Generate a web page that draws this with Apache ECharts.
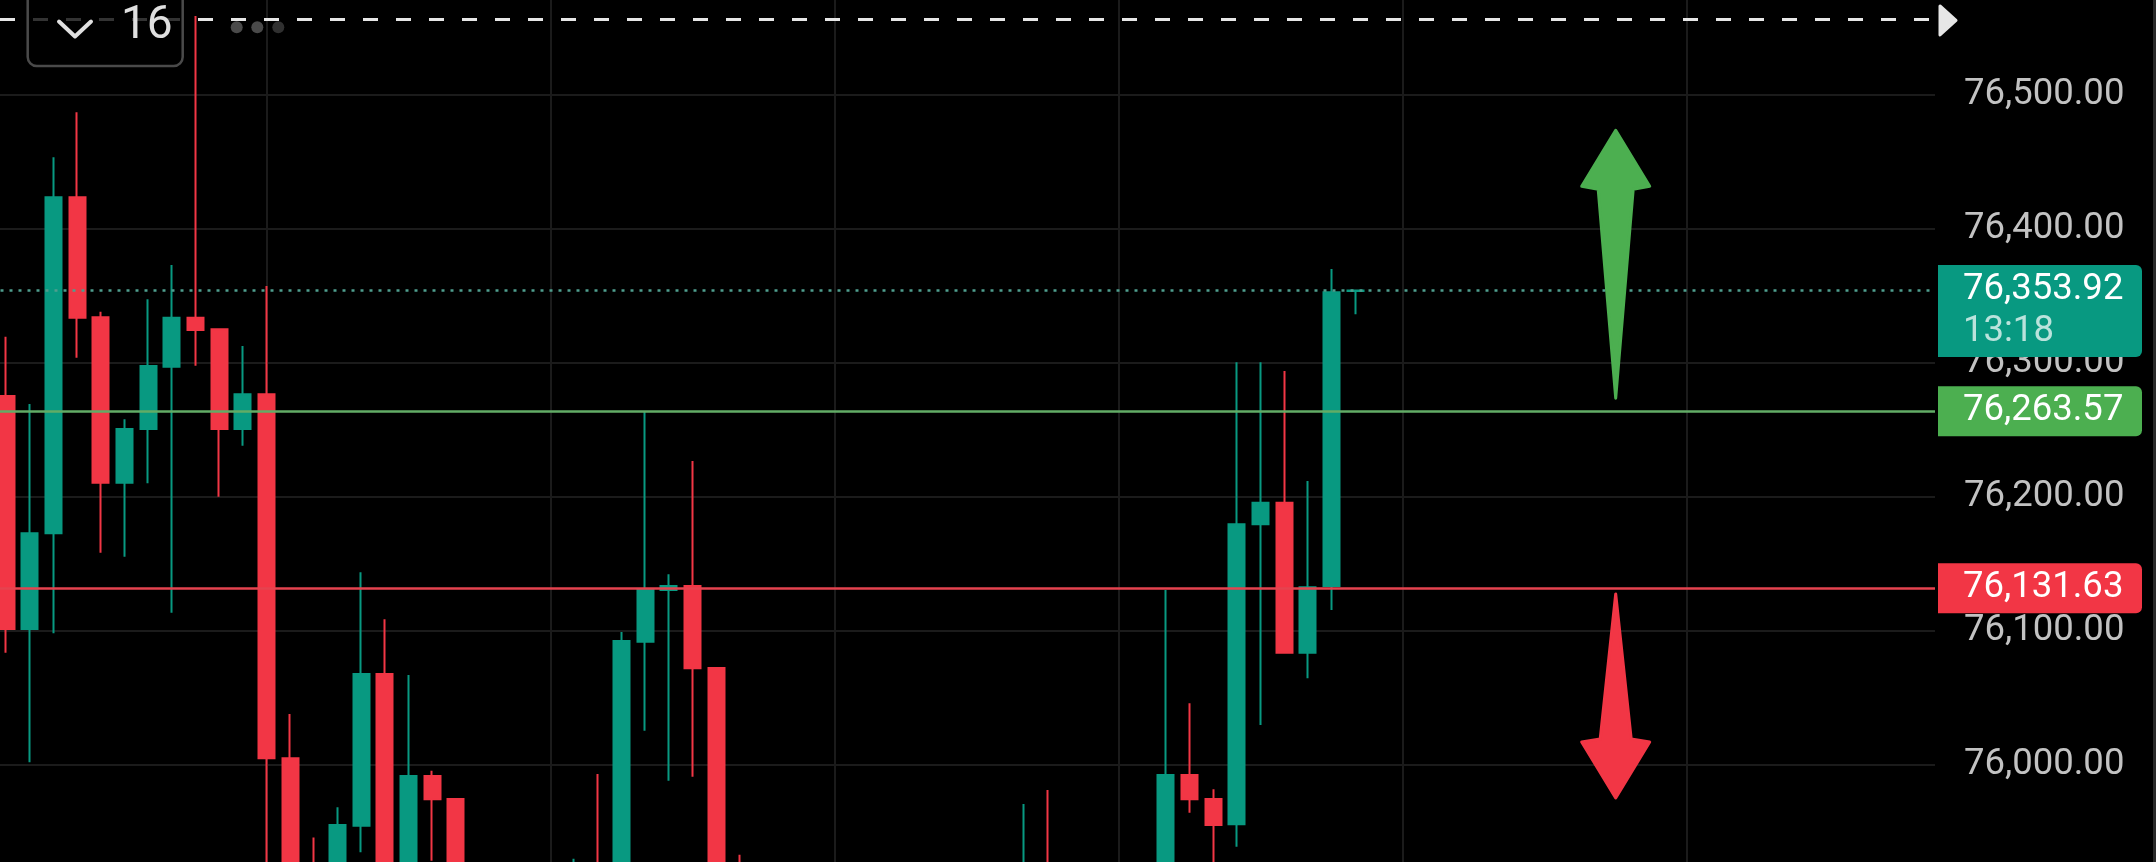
<!DOCTYPE html>
<html>
<head>
<meta charset="utf-8">
<script src="https://cdn.jsdelivr.net/npm/echarts@6/dist/echarts.min.js"></script>
<style>
  html, body { margin: 0; padding: 0; background: #000; }
  #chart { width: 2156px; height: 862px; }
</style>
</head>
<body>
<div id="chart"></div>
<script>
// ---------------- data ----------------
// one entry per candle, left to right (slot = index + 1)
const opens  = [76275.2, 76101.4, 76172.8, 76423.3, 76333.9, 76210.5, 76250.6, 76297.0, 76333.6, 76324.9,
                76250.6, 76276.4, 76005.0, 75890.0, 75860.0, 75954.7, 76067.9, 75900.0, 75991.8, 75974.7,
                75890.0, 75860.0, 75880.0, 75850.0, 75875.0, 75905.0, 75880.0, 76092.0, 76130.5, 76133.5,
                76072.4, 75900.0, 75880.0, 75850.0, 75830.0, 75860.0, 75840.0, 75810.0, 75830.0, 75860.0,
                75845.0, 75870.0, 75855.0, 75880.0, 75900.0, 75885.0, 75870.0, 75890.0, 75875.0, 75900.0,
                75992.5, 75974.7, 75955.8, 76179.5, 76195.6, 76083.7, 76133.5, 76353.5];
const closes = [76101.4, 76172.8, 76423.3, 76333.6, 76210.5, 76250.6, 76297.5, 76333.6, 76324.4, 76250.6,
                76276.4, 76005.0, 75890.0, 75860.0, 75955.3, 76067.9, 75900.0, 75991.8, 75974.4, 75890.0,
                75860.0, 75880.0, 75850.0, 75875.0, 75905.0, 75880.0, 76092.5, 76130.5, 76133.5, 76072.1,
                75900.0, 75880.0, 75850.0, 75830.0, 75860.0, 75840.0, 75810.0, 75830.0, 75860.0, 75845.0,
                75870.0, 75855.0, 75880.0, 75900.0, 75885.0, 75870.0, 75890.0, 75875.0, 75900.0, 75992.5,
                75974.4, 75955.3, 76179.5, 76195.6, 76083.7, 76132.5, 76352.5, 76353.92];
const lows   = [76083.7, 76002.0, 76098.2, 76303.7, 76158.3, 76155.3, 76210.1, 76113.6, 76297.8, 76200.1,
                76238.1, 75880.0, 75870.0, 75840.0, 75850.0, 75935.0, 75880.0, 75880.0, 75928.6, 75860.0,
                75830.0, 75820.0, 75830.0, 75840.0, 75860.0, 75860.0, 75870.0, 76025.6, 75988.3, 75991.3,
                75880.0, 75850.0, 75820.0, 75800.0, 75810.0, 75820.0, 75790.0, 75780.0, 75820.0, 75825.0,
                75830.0, 75835.0, 75840.0, 75860.0, 75860.0, 75850.0, 75855.0, 75860.0, 75860.0, 75890.0,
                75964.4, 75900.0, 75939.1, 76029.8, 76083.7, 76064.7, 76115.6, 76336.1];
const highs  = [76319.4, 76269.2, 76453.2, 76486.7, 76338.0, 76257.8, 76347.3, 76372.9, 76558.5, 76324.9,
                76312.5, 76357.2, 76038.0, 75946.0, 75968.5, 76143.7, 76108.6, 76067.1, 75995.8, 75974.7,
                75905.0, 75900.0, 75910.0, 75900.0, 75930.0, 75993.3, 76099.2, 76263.6, 76142.2, 76226.7,
                76072.4, 75933.0, 75900.0, 75880.0, 75880.0, 75890.0, 75870.0, 75850.0, 75880.0, 75890.0,
                75895.0, 75900.0, 75910.0, 75971.0, 75981.4, 75910.0, 75915.0, 75920.0, 75925.0, 76130.5,
                76046.0, 75981.9, 76300.3, 76300.3, 76293.8, 76211.8, 76369.9, 76354.5];

// price scale
const priceMin = 75900, priceMax = 76600, priceStep = 100;
// time scale in candle slots, vertical grid every 12 candles
const slotMin = 0, slotMax = 82.49, slotStep = 12;

// horizontal levels
const currentPrice = 76353.92;
const countdown = '13:18';
const upperLevel = 76263.57;
const lowerLevel = 76131.63;
const highLine = 76556;

// arrows: [slot, tail value, tip value]
const arrows = [[69, 76273.5, 76473.3], [69, 76127.5, 75975.4]];

const intervalText = '16';

// ---------------- chart ----------------
const TEAL = '#089981', RED = '#f23645', GREEN = '#4caf50';
const FONT = 'Roboto, "Noto Sans", sans-serif';
const fmt = v => Number(v).toLocaleString('en-US', { minimumFractionDigits: 2, maximumFractionDigits: 2 });

const candles = opens.map((o, i) => [i + 1, o, closes[i], lows[i], highs[i]]);

const tagData = [
  [0, currentPrice, 0],
  [0, upperLevel, 1],
  [0, lowerLevel, 2]
];
const tagColors = [TEAL, GREEN, RED];

function renderTag(params, api) {
  const cs = params.coordSys;
  const val = api.value(1);
  const kind = api.value(2);
  const y = api.coord([0, val])[1];
  const left = cs.x + cs.width + 3;
  const w = 204;
  const twoLines = kind === 0;
  const h = twoLines ? 92 : 50;
  const children = [{
    type: 'rect',
    shape: { x: left, y: y - 25.3, width: w, height: h, r: [0, 6, 6, 0] },
    style: { fill: tagColors[kind] }
  }, {
    type: 'text',
    style: { x: left + 25, y: y - 1, text: fmt(val), fill: '#ffffff', font: '36.5px ' + FONT,
             textAlign: 'left', textVerticalAlign: 'middle' }
  }];
  if (twoLines) {
    children.push({
      type: 'text',
      style: { x: left + 25, y: y + 41.5, text: countdown, fill: 'rgba(255,255,255,0.72)', font: '36.5px ' + FONT,
               textAlign: 'left', textVerticalAlign: 'middle' }
    });
  }
  return { type: 'group', children };
}

function renderHighMarker(params, api) {
  const cs = params.coordSys;
  const y = api.coord([0, api.value(1)])[1];
  const x0 = cs.x + cs.width + 5;
  return {
    type: 'polygon',
    shape: { points: [[x0, y - 13.5], [x0 + 16, y + 1], [x0, y + 15.5]] },
    style: { fill: '#e6e6e6', stroke: '#e6e6e6', lineWidth: 3, lineJoin: 'round' }
  };
}

function renderArrow(params, api) {
  const tail = api.coord([api.value(0), api.value(1)]);
  const tip = api.coord([api.value(0), api.value(2)]);
  const cx = tip[0];
  const s = tip[1] < tail[1] ? -1 : 1;   // -1 = pointing up
  const headLen = 56, headHalf = 34, shaftHalf = s < 0 ? 17.5 : 15.5;
  const baseY = tip[1] - s * headLen;
  const innerY = baseY - s * 3;
  const color = s < 0 ? '#4caf50' : '#f23645';
  return {
    type: 'polygon',
    shape: { points: [
      [cx, tip[1]],
      [cx + headHalf, baseY],
      [cx + shaftHalf, innerY],
      [cx, tail[1]],
      [cx - shaftHalf, innerY],
      [cx - headHalf, baseY]
    ] },
    style: { fill: color, stroke: color, lineWidth: 3, lineJoin: 'round' }
  };
}

const chart = echarts.init(document.getElementById('chart'), null, { renderer: 'canvas' });

const option = {
  backgroundColor: '#000000',
  animation: false,
  grid: { left: -17.5, right: 221, top: -39.6, bottom: -37.1, outerBoundsMode: 'none', containLabel: false },
  xAxis: {
    type: 'value', min: slotMin, max: slotMax, interval: slotStep,
    axisLine: { show: false }, axisTick: { show: false }, axisLabel: { show: false },
    splitLine: { show: true, showMinLine: false, showMaxLine: false, lineStyle: { color: '#1b1b1b', width: 2 } }
  },
  yAxis: {
    type: 'value', position: 'right', min: priceMin, max: priceMax, interval: priceStep, scale: true,
    axisLine: { show: false }, axisTick: { show: false },
    axisLabel: {
      show: true, color: '#c2c2c2', fontSize: 36.5, fontFamily: FONT, margin: 29,
      showMinLabel: false, showMaxLabel: false,
      formatter: fmt
    },
    splitLine: { show: true, showMinLine: false, showMaxLine: false, lineStyle: { color: '#1b1b1b', width: 2 } }
  },
  series: [
    {
      type: 'candlestick',
      data: candles,
      barWidth: 16.5,
      itemStyle: { color: TEAL, color0: RED, borderColor: TEAL, borderColor0: RED, borderWidth: 2 },
      markLine: {
        silent: true,
        animation: false,
        symbol: ['none', 'none'],
        label: { show: false },
        emphasis: { disabled: true },
        data: [
          { yAxis: highLine, lineStyle: { color: '#e6e6e6', width: 3, type: [15, 18], dashOffset: 15.5 } },
          { yAxis: currentPrice, lineStyle: { color: '#4f9e8e', width: 2.5, type: [3, 6] } },
          { yAxis: upperLevel, lineStyle: { color: '#62ac66', width: 2.5, type: 'solid' } },
          { yAxis: lowerLevel, lineStyle: { color: '#e5434f', width: 2.5, type: 'solid' } }
        ]
      }
    },
    {
      type: 'custom', renderItem: renderArrow, data: arrows, silent: true, clip: false, z: 5
    },
    {
      type: 'custom', renderItem: renderTag, data: tagData, silent: true, clip: false, z: 10
    },
    {
      type: 'custom', renderItem: renderHighMarker, data: [[0, highLine]], silent: true, clip: false, z: 10
    }
  ],
  graphic: [
    { type: 'rect', z: 100, shape: { x: 27.7, y: -20, width: 155, height: 86, r: 9 },
      style: { fill: 'rgba(0,0,0,0.78)', stroke: '#4a4a4a', lineWidth: 2.5 } },
    { type: 'polyline', z: 101, shape: { points: [[59, 21.5], [75, 36.5], [91, 21.5]] },
      style: { stroke: '#e0e0e0', lineWidth: 4, lineCap: 'round', lineJoin: 'round', fill: null } },
    { type: 'text', z: 101, style: { x: 121, y: 26, text: intervalText, fill: '#e0e0e0',
      font: '46px ' + FONT, textAlign: 'left', textVerticalAlign: 'middle' } },
    { type: 'circle', z: 101, shape: { cx: 236.7, cy: 27.3, r: 6 }, style: { fill: '#4a4a4a' } },
    { type: 'circle', z: 101, shape: { cx: 257.3, cy: 27.3, r: 6 }, style: { fill: '#4a4a4a' } },
    { type: 'circle', z: 101, shape: { cx: 278.3, cy: 27.3, r: 6 }, style: { fill: '#303030' } },
    { type: 'rect', z: 100, shape: { x: 2153, y: 0, width: 3, height: 862 }, style: { fill: '#2a2a2a' } }
  ]
};

chart.setOption(option);
</script>
</body>
</html>
